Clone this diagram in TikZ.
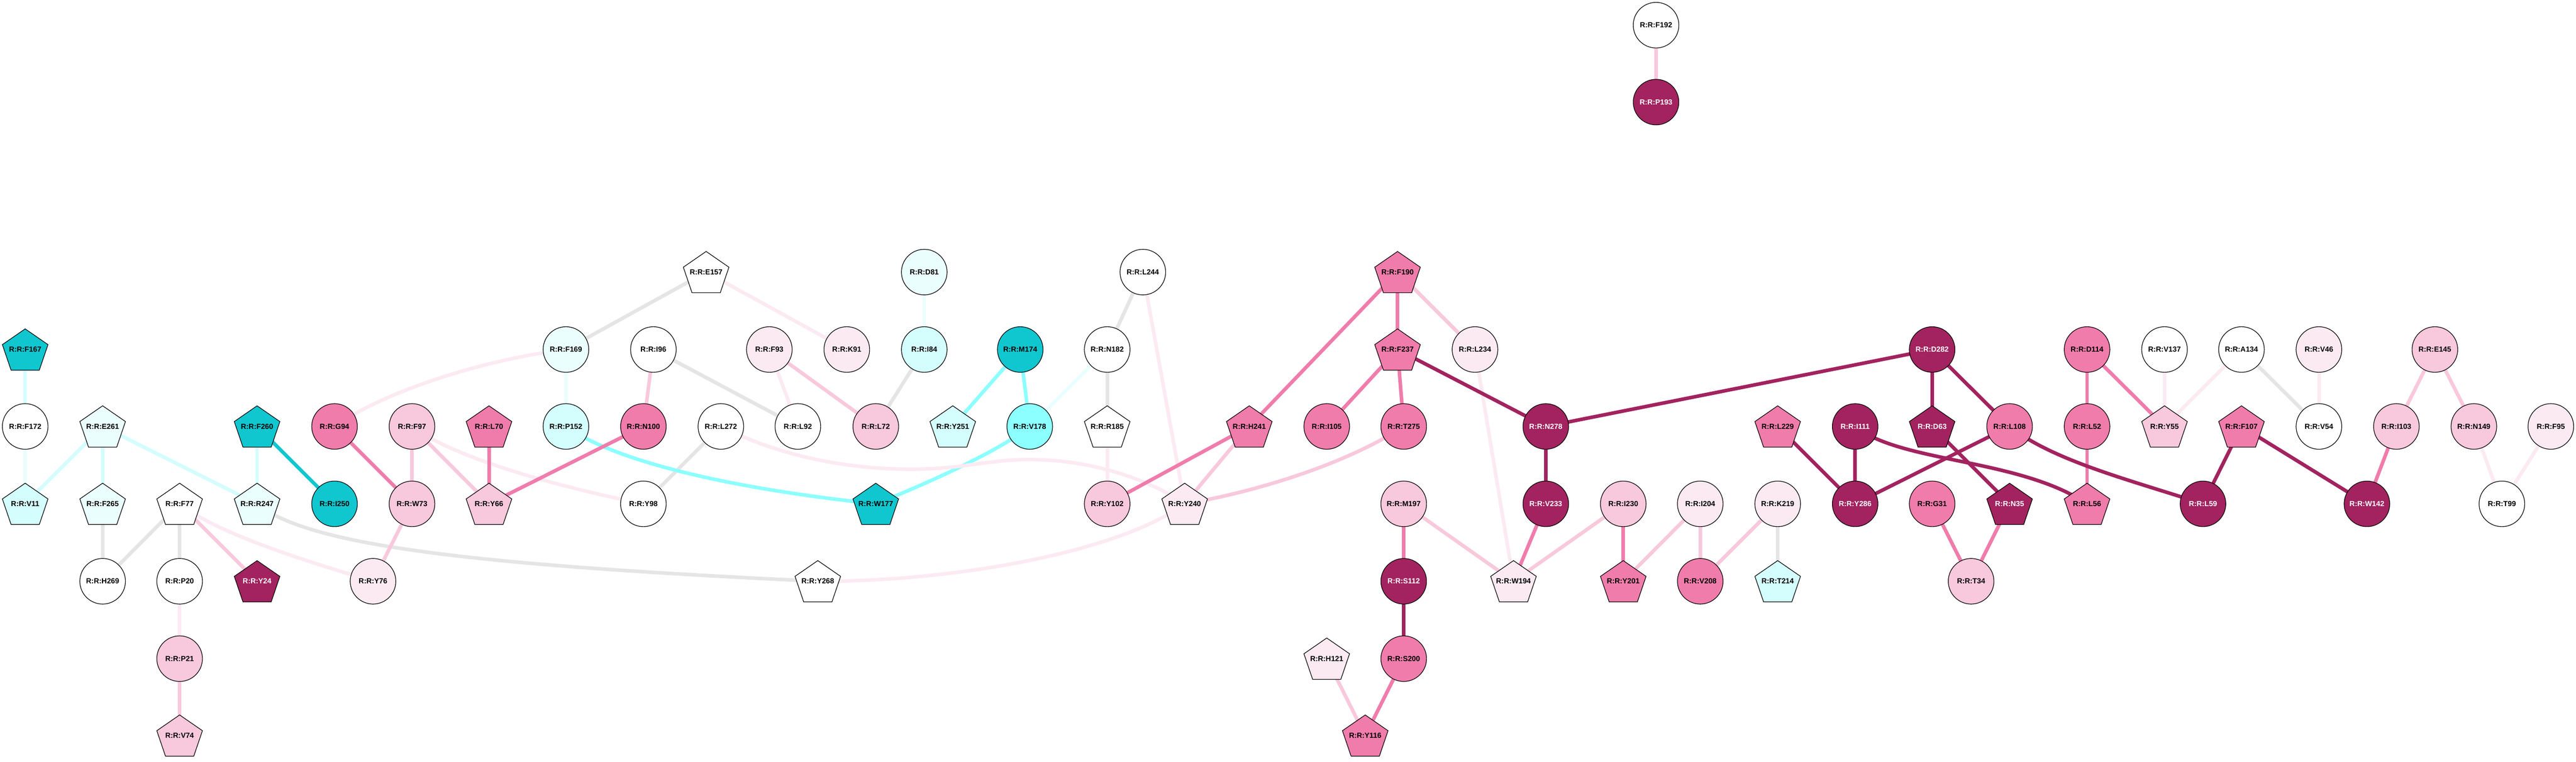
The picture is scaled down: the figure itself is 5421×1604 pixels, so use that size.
\documentclass[tikz,border=0pt]{standalone}
\usepackage{fontspec}
\setmainfont{Liberation Sans}
\usetikzlibrary{backgrounds}
\definecolor{cgray}{HTML}{E5E5E5}
\definecolor{lcyan}{HTML}{D4FDFD}
\definecolor{vlcyan}{HTML}{EAFEFE}
\definecolor{cdark}{HTML}{10C6CF}
\definecolor{cbright}{HTML}{8CFFFF}
\definecolor{vlpink}{HTML}{FCEAF2}
\definecolor{lpink}{HTML}{F8C8DC}
\definecolor{mpink}{HTML}{F07CAB}
\definecolor{dmag}{HTML}{A2235F}
\begin{document}
\begin{tikzpicture}[x=1pt,y=-1pt,
  base/.style={inner sep=0pt, font=\fontsize{15.5}{16}\selectfont\bfseries, text=black},
  circ/.style={base, circle, draw=black, line width=1.3pt, minimum size=96pt, fill=#1},
  pent/.style={base, rectangle, minimum width=100pt, minimum height=91pt,
    path picture={\filldraw[fill=#1, draw=black, line width=1.3pt]
      ([shift={(0pt,43.5pt)}]path picture bounding box.center) --
      ([shift={(48pt,10.3pt)}]path picture bounding box.center) --
      ([shift={(29.7pt,-43.5pt)}]path picture bounding box.center) --
      ([shift={(-29.7pt,-43.5pt)}]path picture bounding box.center) --
      ([shift={(-48pt,10.3pt)}]path picture bounding box.center) -- cycle;}},
  wt/.style={text=white},
  e/.style={line width=7.5pt, draw=#1},
]
\useasboundingbox (0,0) rectangle (5421,1604);
% row 0/1
\node[circ=white] (F192) at (3485,53) {R:R:F192};
\node[circ=dmag,wt] (P193) at (3485,215) {R:R:P193};
% row 2
\node[pent=white] (E157) at (1486,573) {R:R:E157};
\node[circ=vlcyan] (D81) at (1945,573) {R:R:D81};
\node[circ=white] (L244) at (2405,573) {R:R:L244};
\node[pent=mpink] (F190) at (2941,573) {R:R:F190};
% row 3
\node[pent=cdark] (F167) at (53,736) {R:R:F167};
\node[circ=vlcyan] (F169) at (1191,736) {R:R:F169};
\node[circ=white] (I96) at (1375,736) {R:R:I96};
\node[circ=vlpink] (F93) at (1619,736) {R:R:F93};
\node[circ=vlpink] (K91) at (1782,736) {R:R:K91};
\node[circ=lcyan] (I84) at (1945,736) {R:R:I84};
\node[circ=cdark] (M174) at (2147,736) {R:R:M174};
\node[circ=white] (N182) at (2330,736) {R:R:N182};
\node[pent=mpink] (F237) at (2941,736) {R:R:F237};
\node[circ=vlpink] (L234) at (3104,736) {R:R:L234};
\node[circ=dmag,wt] (D282) at (4066,736) {R:R:D282};
\node[circ=mpink] (D114) at (4392,736) {R:R:D114};
\node[circ=white] (V137) at (4555,736) {R:R:V137};
\node[circ=white] (A134) at (4717,736) {R:R:A134};
\node[circ=vlpink] (V46) at (4880,736) {R:R:V46};
\node[circ=lpink] (E145) at (5124,736) {R:R:E145};
% row 4
\node[circ=white] (F172) at (53,898) {R:R:F172};
\node[pent=vlcyan] (E261) at (216,898) {R:R:E261};
\node[pent=cdark] (F260) at (541,898) {R:R:F260};
\node[circ=mpink] (G94) at (704,898) {R:R:G94};
\node[circ=lpink] (F97) at (867,898) {R:R:F97};
\node[pent=mpink] (L70) at (1029,898) {R:R:L70};
\node[circ=lcyan] (P152) at (1191,898) {R:R:P152};
\node[circ=mpink] (N100) at (1354,898) {R:R:N100};
\node[circ=white] (L272) at (1517,898) {R:R:L272};
\node[circ=white] (L92) at (1679,898) {R:R:L92};
\node[circ=lpink] (L72) at (1843,898) {R:R:L72};
\node[pent=lcyan] (Y251) at (2005,898) {R:R:Y251};
\node[circ=cbright] (V178) at (2167,898) {R:R:V178};
\node[pent=white] (R185) at (2330,898) {R:R:R185};
\node[pent=mpink] (H241) at (2629,898) {R:R:H241};
\node[circ=mpink] (I105) at (2792,898) {R:R:I105};
\node[circ=mpink] (T275) at (2954,898) {R:R:T275};
\node[circ=dmag,wt] (N278) at (3253,898) {R:R:N278};
\node[pent=mpink] (L229) at (3741,898) {R:R:L229};
\node[circ=dmag,wt] (I111) at (3904,898) {R:R:I111};
\node[pent=dmag,wt] (D63) at (4066,898) {R:R:D63};
\node[circ=mpink] (L108) at (4229,898) {R:R:L108};
\node[circ=mpink] (L52) at (4392,898) {R:R:L52};
\node[pent=lpink] (Y55) at (4555,898) {R:R:Y55};
\node[pent=mpink] (F107) at (4717,898) {R:R:F107};
\node[circ=white] (V54) at (4880,898) {R:R:V54};
\node[circ=lpink] (I103) at (5043,898) {R:R:I103};
\node[circ=lpink] (N149) at (5206,898) {R:R:N149};
\node[circ=vlpink] (F95) at (5368,898) {R:R:F95};
% row 5
\node[pent=lcyan] (V11) at (53,1061) {R:R:V11};
\node[pent=vlcyan] (F265) at (216,1061) {R:R:F265};
\node[pent=white] (F77) at (378,1061) {R:R:F77};
\node[pent=vlcyan] (R247) at (541,1061) {R:R:R247};
\node[circ=cdark] (I250) at (704,1061) {R:R:I250};
\node[circ=lpink] (W73) at (867,1061) {R:R:W73};
\node[pent=lpink] (Y66) at (1029,1061) {R:R:Y66};
\node[circ=white] (Y98) at (1354,1061) {R:R:Y98};
\node[pent=cdark] (W177) at (1843,1061) {R:R:W177};
\node[circ=lpink] (Y102) at (2330,1061) {R:R:Y102};
\node[pent=vlpink] (Y240) at (2493,1061) {R:R:Y240};
\node[circ=lpink] (M197) at (2954,1061) {R:R:M197};
\node[circ=dmag,wt] (V233) at (3253,1061) {R:R:V233};
\node[circ=lpink] (I230) at (3416,1061) {R:R:I230};
\node[circ=vlpink] (I204) at (3578,1061) {R:R:I204};
\node[circ=vlpink] (K219) at (3741,1061) {R:R:K219};
\node[circ=dmag,wt] (Y286) at (3904,1061) {R:R:Y286};
\node[circ=mpink] (G31) at (4066,1061) {R:R:G31};
\node[pent=dmag,wt] (N35) at (4229,1061) {R:R:N35};
\node[pent=mpink] (L56) at (4392,1061) {R:R:L56};
\node[circ=dmag,wt] (L59) at (4636,1061) {R:R:L59};
\node[circ=dmag,wt] (W142) at (4981,1061) {R:R:W142};
\node[circ=white] (T99) at (5265,1061) {R:R:T99};
% row 6
\node[circ=white] (H269) at (216,1224) {R:R:H269};
\node[circ=white] (P20) at (378,1224) {R:R:P20};
\node[pent=dmag,wt] (Y24) at (541,1224) {R:R:Y24};
\node[circ=vlpink] (Y76) at (785,1224) {R:R:Y76};
\node[pent=white] (Y268) at (1721,1224) {R:R:Y268};
\node[circ=dmag,wt] (S112) at (2954,1224) {R:R:S112};
\node[pent=vlpink] (W194) at (3185,1224) {R:R:W194};
\node[pent=mpink] (Y201) at (3416,1224) {R:R:Y201};
\node[circ=mpink] (V208) at (3578,1224) {R:R:V208};
\node[pent=lcyan] (T214) at (3741,1224) {R:R:T214};
\node[circ=lpink] (T34) at (4148,1224) {R:R:T34};
% row 7/8
\node[circ=lpink] (P21) at (378,1387) {R:R:P21};
\node[pent=vlpink] (H121) at (2792,1387) {R:R:H121};
\node[circ=mpink] (S200) at (2954,1387) {R:R:S200};
\node[pent=lpink] (V74) at (378,1549) {R:R:V74};
\node[pent=mpink] (Y116) at (2873,1549) {R:R:Y116};

\begin{pgfonlayer}{background}
\fill[white] (0,0) rectangle (5421,1604);
% gray
\foreach \a/\b in {F265/H269, F77/H269, F77/P20, E157/F169, I96/L92, L272/Y98, L72/I84, L244/N182, N182/R185, K219/T214, A134/V54}
  \draw[e=cgray] (\a.center) -- (\b.center);
\draw[e=cgray] (R247.center) .. controls (650,1150) and (1000,1190) .. (Y268.center);
% cyan family
\foreach \a/\b in {F167/F172, F260/R247, E261/V11, E261/F265, E261/R247}
  \draw[e=lcyan] (\a.center) -- (\b.center);
\foreach \a/\b in {F172/V11, F169/P152, D81/I84, N182/V178}
  \draw[e=vlcyan] (\a.center) -- (\b.center);
\draw[e=cdark] (F260.center) -- (I250.center);
\foreach \a/\b in {M174/Y251, M174/V178}
  \draw[e=cbright] (\a.center) -- (\b.center);
\draw[e=cbright] (P152.center) .. controls (1300,975) and (1550,1030) .. (W177.center);
\draw[e=cbright] (V178.center) .. controls (2110,945) and (1960,1015) .. (W177.center);
% very light pink
\foreach \a/\b in {P20/P21, E157/K91, F93/L92, L244/Y240, R185/Y102, L234/W194, V137/Y55, A134/Y55, V46/V54, N149/T99, F95/T99}
  \draw[e=vlpink] (\a.center) -- (\b.center);
\draw[e=vlpink] (G94.center) .. controls (800,830) and (1000,760) .. (F169.center);
\draw[e=vlpink] (F77.center) .. controls (460,1125) and (640,1180) .. (Y76.center);
\draw[e=vlpink] (F97.center) .. controls (950,960) and (1150,1020) .. (Y98.center);
\draw[e=vlpink] (Y268.center) .. controls (2000,1225) and (2350,1165) .. (Y240.center);
\draw[e=vlpink] (L272.center) .. controls (1620,950) and (1750,985) .. (1900,988)
  .. controls (2030,990) and (2080,965) .. (2180,968)
  .. controls (2300,970) and (2420,1010) .. (Y240.center);
% light pink
\foreach \a/\b in {F192/P193, F77/Y24, F97/W73, W73/Y76, P21/V74, I96/N100, F93/L72, F97/Y66, H241/Y240, F190/L234, M197/W194, I230/W194, I204/Y201, I204/V208, K219/V208, H121/Y116, E145/I103, E145/N149}
  \draw[e=lpink] (\a.center) -- (\b.center);
\draw[e=lpink] (Y240.center) .. controls (2620,1040) and (2820,985) .. (T275.center);
% medium pink
\foreach \a/\b in {G94/W73, L70/Y66, N100/Y66, H241/F190, H241/Y102, I105/F237, F190/F237, F237/T275, M197/S112, V233/W194, I230/Y201, S200/Y116, D114/L52, D114/Y55, L52/L56, G31/T34, N35/T34, I103/W142}
  \draw[e=mpink] (\a.center) -- (\b.center);
% dark magenta
\foreach \a/\b in {F237/N278, N278/D282, N278/V233, S112/S200, D282/D63, D282/L108, L229/Y286, I111/Y286, D63/N35, L108/Y286, F107/L59, F107/W142}
  \draw[e=dmag] (\a.center) -- (\b.center);
\draw[e=dmag] (I111.center) .. controls (4000,975) and (4250,965) .. (L56.center);
\draw[e=dmag] (L108.center) .. controls (4320,970) and (4480,1010) .. (L59.center);
\end{pgfonlayer}
\end{tikzpicture}
\end{document}
